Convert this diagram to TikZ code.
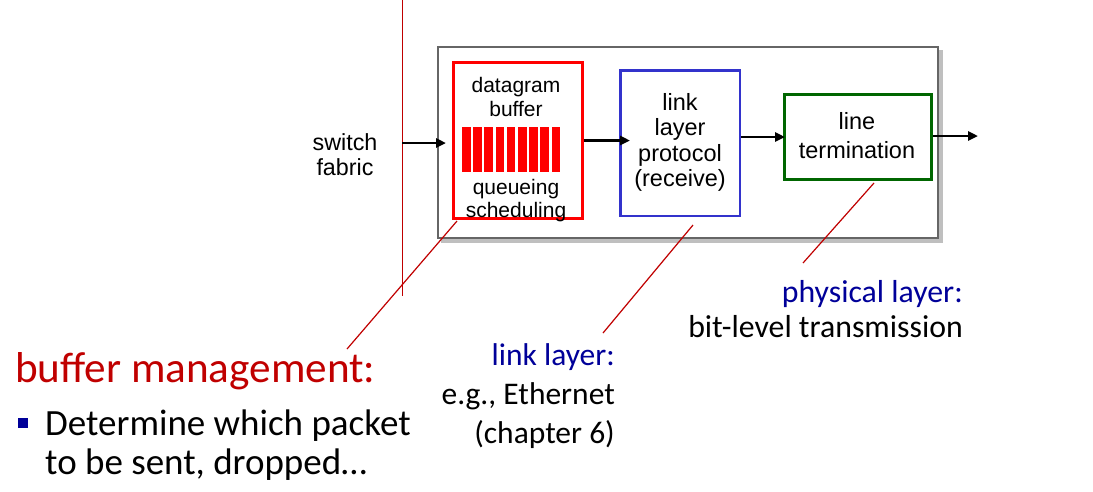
\documentclass[tikz,border=0pt]{standalone}
\usepackage{fontspec}
\setmainfont{Liberation Sans}
\newfontfamily\calib{Carlito}
\usetikzlibrary{arrows.meta}
\definecolor{pptred}{RGB}{192,0,0}
\definecolor{pptblue}{RGB}{0,0,153}
\definecolor{boxblue}{RGB}{51,51,204}
\definecolor{boxgreen}{RGB}{0,102,0}
\definecolor{outergray}{RGB}{102,102,102}
\begin{document}
\begin{tikzpicture}[x=1pt,y=-1pt,
  arr/.style={line width=2.8pt,-{Triangle[length=10pt,width=9pt]}},
  ptr/.style={pptred,line width=1.2pt},
  boxnode/.style={draw,inner sep=0pt},
  lbl/.style={inner sep=0pt,align=center,anchor=base},
  note/.style={inner sep=0pt,align=right,anchor=base east}]
\useasboundingbox (0,0) rectangle (1093,491);
% red divider line
\coordinate (vtop) at (402,0);
\coordinate (vbot) at (402,296);
\draw[pptred,line width=1pt] (vtop) -- (vbot);
% outer box with shadow
\fill[black!25] (441,50) rectangle (943,243);
\node[boxnode,draw=outergray,fill=white,line width=2pt,minimum width=500pt,minimum height=191pt] (outer) at (688,142.5) {};
% inner boxes
\node[boxnode,draw=red,line width=3pt,minimum width=129pt,minimum height=156pt] (rb) at (518,140.5) {};
\node[boxnode,draw=boxblue,line width=2.5pt,minimum width=119.5pt,minimum height=145.5pt] (bb) at (680,143) {};
\node[boxnode,draw=boxgreen,line width=3pt,minimum width=147pt,minimum height=85pt] (gb) at (858,137) {};
% buffer bars
\foreach \i in {0,...,8}{
  \fill[red] (462+\i*11.2,127) rectangle ++(8.5,45);
}
% box texts (anchor = baseline of last line)
\node[lbl,font=\fontsize{21}{24}\selectfont] (dg) at (516,116) {datagram\\buffer};
\node[lbl,font=\fontsize{21}{23}\selectfont] (qs) at (516,217) {queueing\\scheduling};
\node[lbl,font=\fontsize{23.5}{25.5}\selectfont] (llp) at (680,186.5) {link\\layer\\protocol\\(receive)};
\node[lbl,font=\fontsize{23.5}{29}\selectfont] (lt) at (857,158) {line\\termination};
\node[lbl,font=\fontsize{23.3}{25}\selectfont] (sf) at (345,175) {switch\\fabric};
% arrows
\coordinate (ain) at (402,143);
\coordinate (aout) at (978,136);
\draw[arr,shorten >=6pt] (ain) -- (ain -| rb.west);
\draw[arr,shorten >=-11pt] (rb.east) -- (rb.east -| bb.west);
\draw[arr,shorten >=-2pt] (gb.west -| bb.east) -- (gb.west);
\draw[arr] (gb.east |- aout) -- (aout);
% pointer lines
\coordinate (p1a) at (457,221);
\coordinate (p1b) at (347,349);
\coordinate (p2a) at (693,225);
\coordinate (p2b) at (603,333);
\coordinate (p3a) at (874,183);
\coordinate (p3b) at (803,263);
\draw[ptr] (p1a) -- (p1b);
\draw[ptr] (p2a) -- (p2b);
\draw[ptr] (p3a) -- (p3b);
% bottom texts
\node[inner sep=0pt,anchor=base west,text=pptred,font=\calib\fontsize{43.2}{50}\selectfont] (bm) at (15,382) {buffer management:};
\node[fill=pptblue,minimum size=10pt,inner sep=0pt] (bul) at (23,423) {};
\node[inner sep=0pt,align=left,anchor=base west,font=\calib\fontsize{37}{39}\selectfont] (det) at (45,474) {Determine which packet\\to be sent, dropped…};
\node[note,font=\calib\fontsize{31.5}{39}\selectfont] (ll) at (615,443) {\textcolor{pptblue}{link layer:}\\e.g., Ethernet\\(chapter 6)};
\node[note,font=\calib\fontsize{31.8}{35}\selectfont] (pl) at (963,337) {\textcolor{pptblue}{physical layer:}\\bit-level transmission};
\end{tikzpicture}
\end{document}
